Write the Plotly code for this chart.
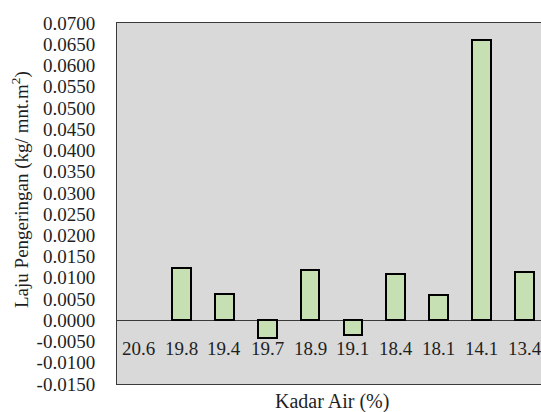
import plotly.graph_objects as go

# Moisture content categories (x) and drying rate (y)
kadar_air = ["20.6", "19.8", "19.4", "19.7", "18.9", "19.1", "18.4", "18.1", "14.1", "13.4"]
laju_pengeringan = [0.0, 0.0122, 0.0063, -0.0041, 0.0118, -0.0035, 0.0108, 0.0059, 0.0661, 0.0114]

y_ticks = [round(-0.015 + 0.005 * i, 4) for i in range(18)]
y_tick_labels = [f"{v:.4f}" for v in y_ticks]

FONT = "Liberation Serif, serif"
TEXT = "#1f1f1f"

W, H = 541, 412
ML, MT, MB = 117, 23, 28
plot_w = W - ML
plot_h = H - MT - MB

x_idx = list(range(len(kadar_air)))
# no outline on an empty (zero-height) bar
outline_w = [0 if v == 0 else 2 for v in laju_pengeringan]

fig = go.Figure()
fig.add_trace(go.Bar(
    x=x_idx,
    y=laju_pengeringan,
    width=0.44,
    marker=dict(color="#c6e0b4", line=dict(color="#000000", width=outline_w)),
    showlegend=False,
))

# Category labels sit just below the zero line
for i, lab in zip(x_idx, kadar_air):
    fig.add_annotation(
        x=i, y=0, xref="x", yref="y", text=lab, showarrow=False,
        yanchor="middle", yshift=-28,
        font=dict(family=FONT, size=19, color=TEXT),
    )

fig.add_annotation(
    xref="paper", yref="paper", x=(332 - ML) / plot_w, y=(MT + plot_h - 401) / plot_h,
    text="Kadar Air (%)", showarrow=False, xanchor="center", yanchor="middle",
    font=dict(family=FONT, size=20, color=TEXT),
)
fig.add_annotation(
    xref="paper", yref="paper", x=(20 - ML) / plot_w, y=(MT + plot_h - 190) / plot_h,
    text="Laju Pengeringan (kg/ mnt.m<sup>2</sup>)", showarrow=False, textangle=-90,
    xanchor="center", yanchor="middle",
    font=dict(family=FONT, size=19, color=TEXT),
)

fig.update_layout(
    width=W, height=H,
    margin=dict(l=ML, r=0, t=MT, b=MB, pad=0),
    paper_bgcolor="#ffffff",
    plot_bgcolor="#d9d9d9",
    bargap=0,
    font=dict(family=FONT, color=TEXT),
)
fig.update_xaxes(
    range=[-0.5, -0.5 + plot_w / 42.9],
    showticklabels=False, ticks="", showgrid=False, zeroline=False,
    showline=True, mirror=True, linecolor="#3a3a3a", linewidth=1,
)
fig.update_yaxes(
    range=[-0.015, 0.070],
    tickvals=y_ticks, ticktext=y_tick_labels,
    tickfont=dict(family=FONT, size=19, color=TEXT),
    ticks="", ticklabelstandoff=17,
    showgrid=False,
    zeroline=True, zerolinecolor="#3a3a3a", zerolinewidth=1,
    showline=True, mirror=False, linecolor="#3a3a3a", linewidth=1,
)

fig.write_html("out.html")
